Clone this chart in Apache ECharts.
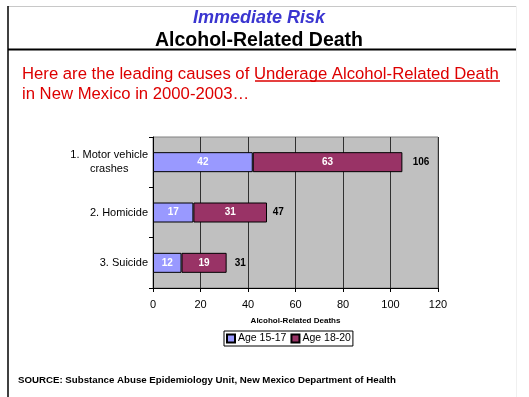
<!DOCTYPE html>
<html>
<head>
<meta charset="utf-8">
<script src="https://cdn.jsdelivr.net/npm/echarts@6/dist/echarts.min.js"></script>
<style>
  html, body { margin: 0; padding: 0; background: #fff; }
  #main { width: 529px; height: 397px; }
</style>
</head>
<body>
<div id="main"></div>
<script>
    var causes = ['1. Motor vehicle\ncrashes', '2. Homicide', '3. Suicide'];
    var age1517 = [42, 17, 12];
    var age1820 = [63, 31, 19];
    var totals = [106, 47, 31];
    var xTicks = [0, 20, 40, 60, 80, 100, 120];

    var font = '"Liberation Sans", Arial, sans-serif';
    var chart = echarts.init(document.getElementById('main'));
    var option = {
        backgroundColor: '#fff',
        animation: false,
        textStyle: { fontFamily: font },
        graphic: [
            // frame lines
            { type: 'line', shape: { x1: 8, y1: 6.5, x2: 516, y2: 6.5 }, style: { stroke: '#c8c8c8', lineWidth: 1 } },
            { type: 'line', shape: { x1: 516.5, y1: 6, x2: 516.5, y2: 397 }, style: { stroke: '#f0f0f0', lineWidth: 1 } },
            { type: 'line', shape: { x1: 8, y1: 6, x2: 8, y2: 397 }, style: { stroke: '#000', lineWidth: 1.5 } },
            { type: 'line', shape: { x1: 8, y1: 49.5, x2: 516, y2: 49.5 }, style: { stroke: '#000', lineWidth: 2 } },
            // titles
            { type: 'text', x: 259, y: 9, style: { text: 'Immediate Risk', align: 'center', font: 'italic bold 18px ' + font, fill: '#3a35d0' } },
            { type: 'text', x: 259, y: 31, style: { text: 'Alcohol-Related Death', align: 'center', font: 'bold 19.5px ' + font, fill: '#000' } },
            { type: 'text', left: 22, top: 64, style: { text: 'Here are the leading causes of Underage Alcohol-Related Death\nin New Mexico in 2000-2003…', font: '16.7px ' + font, fill: '#dd0000', lineHeight: 20 } },
            { type: 'line', shape: { x1: 255, y1: 81, x2: 500, y2: 81 }, style: { stroke: '#dd0000', lineWidth: 1.5 } },
            { type: 'text', left: 18, top: 375, style: { text: 'SOURCE: Substance Abuse Epidemiology Unit, New Mexico Department of Health', font: 'bold 9.7px ' + font, fill: '#000' } }
        ],
        grid: {
            left: 153, top: 137, width: 285, height: 151,
            show: true, backgroundColor: '#c0c0c0', borderColor: '#808080', borderWidth: 1
        },
        legend: {
            data: ['Age 15-17', 'Age 18-20'],
            left: 224, top: 331,
            itemWidth: 8, itemHeight: 8, itemGap: 4,
            borderColor: '#000', borderWidth: 1, padding: [2, 2],
            textStyle: { fontSize: 10.5, color: '#000', fontFamily: font, padding: [0, 0, 0, -2] },
            icon: 'rect'
        },
        xAxis: {
            type: 'value', min: 0, max: 120, interval: 20,
            name: 'Alcohol-Related Deaths', nameLocation: 'middle', nameGap: 29,
            nameTextStyle: { fontSize: 8, fontWeight: 'bold', color: '#000' },
            axisLine: { show: true, lineStyle: { color: '#000' } },
            axisTick: { show: true, length: 4, lineStyle: { color: '#000' } },
            axisLabel: { fontSize: 11, color: '#000', margin: 11,
                formatter: function (v) { return xTicks.indexOf(v) >= 0 ? String(v) : ''; } },
            splitLine: { show: true, lineStyle: { color: '#303030', width: 1 } }
        },
        yAxis: {
            type: 'category', data: causes, inverse: true,
            axisLine: { show: true, lineStyle: { color: '#000' } },
            axisTick: { show: true, length: 4, lineStyle: { color: '#000' } },
            axisLabel: {
                fontSize: 11, color: '#000', margin: 5, align: 'right',
                formatter: function (v) {
                    return v.split('\n').map(function (s) { return '{c|' + s + '}'; }).join('\n');
                },
                rich: { c: { align: 'center', fontSize: 11, lineHeight: 14, color: '#000' } }
            }
        },
        series: [
            {
                name: 'total', type: 'bar', data: totals, barWidth: 20, barGap: '-100%',
                itemStyle: { color: 'rgba(0,0,0,0)' }, silent: true, z: 1,
                label: { show: true, position: 'right', distance: 8, fontSize: 10, fontWeight: 'bold', color: '#000' }
            },
            {
                name: 'Age 15-17', type: 'bar', stack: 's', data: age1517, barWidth: 20, z: 2,
                itemStyle: { color: '#9999ff', borderColor: '#000', borderWidth: 1 },
                label: { show: true, position: 'inside', fontSize: 10, fontWeight: 'bold', color: '#fff' }
            },
            {
                name: 'Age 18-20', type: 'bar', stack: 's', data: age1820, barWidth: 20, z: 2,
                itemStyle: { color: '#993366', borderColor: '#000', borderWidth: 1 },
                label: { show: true, position: 'inside', fontSize: 10, fontWeight: 'bold', color: '#fff' }
            }
        ]
    };
    chart.setOption(option);
</script>
</body>
</html>
